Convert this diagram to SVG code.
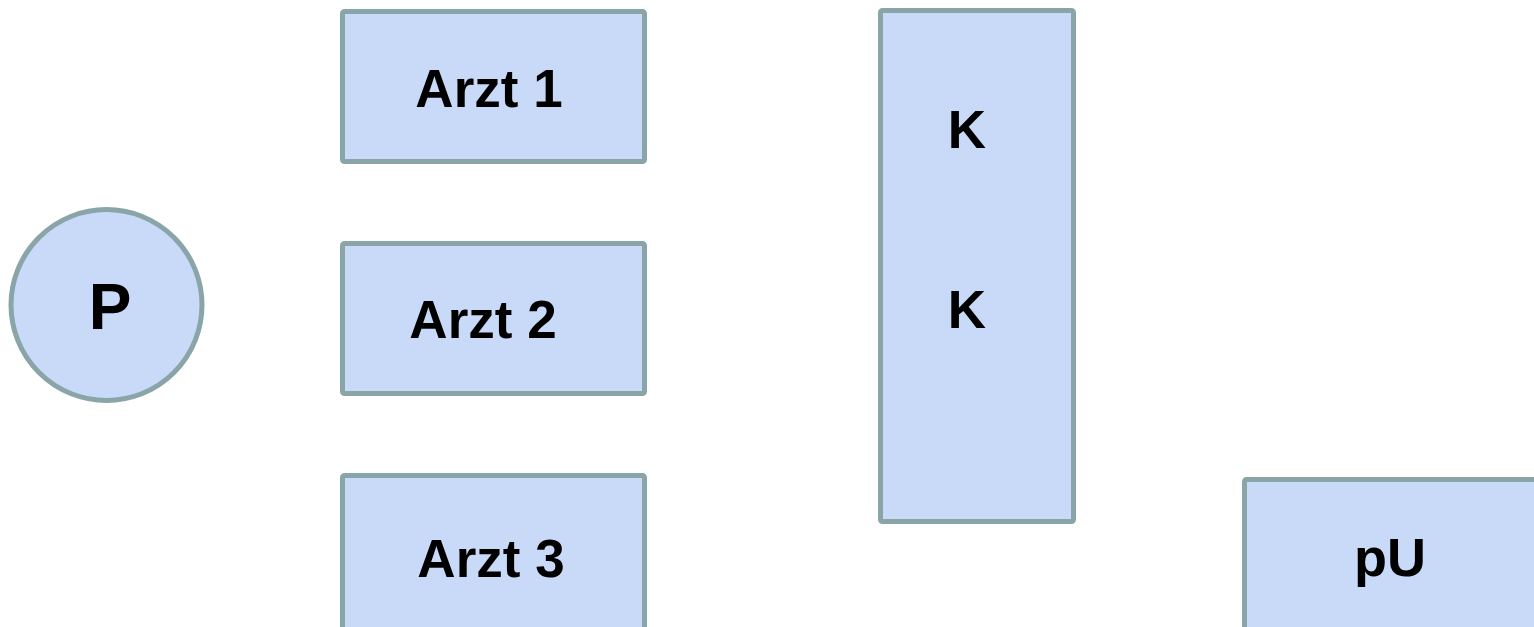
<svg xmlns="http://www.w3.org/2000/svg" width="1534" height="627" viewBox="0 0 1534 627">
<style>
.n{fill:#c9daf8;stroke:#89a5a8;stroke-width:5}
.t{font-family:"Liberation Sans",Arial,sans-serif;font-weight:bold;fill:#000;text-anchor:middle}
</style>
<rect width="1534" height="627" fill="#ffffff"/>
<g id="connectors"></g>
<g id="node-P">
<circle class="n" cx="106.5" cy="305" r="95.5"/>
<text class="t" x="110" y="329" font-size="64">P</text>
</g>
<g id="node-arzt1">
<rect class="n" x="342.5" y="11.5" width="302" height="150" rx="2"/>
<text class="t" x="489" y="107" font-size="53">Arzt 1</text>
</g>
<g id="node-arzt2">
<rect class="n" x="342.5" y="243.5" width="302" height="150" rx="2"/>
<text class="t" x="483" y="338" font-size="53">Arzt 2</text>
</g>
<g id="node-arzt3">
<rect class="n" x="342.5" y="475.5" width="302" height="165" rx="2"/>
<text class="t" x="491" y="577" font-size="53">Arzt 3</text>
</g>
<g id="node-K">
<rect class="n" x="880.5" y="10.5" width="193" height="511" rx="2"/>
<text class="t" x="967" y="148" font-size="53">K</text>
<text class="t" x="967" y="328" font-size="53">K</text>
</g>
<g id="node-pU">
<rect class="n" x="1244.5" y="479.5" width="310" height="170" rx="2"/>
<text class="t" x="1390" y="576" font-size="54">pU</text>
</g>
</svg>
